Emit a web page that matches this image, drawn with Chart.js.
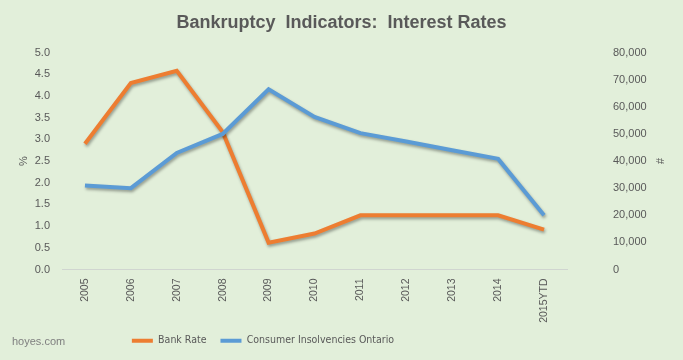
<!DOCTYPE html>
<html>
<head>
<meta charset="utf-8">
<script src="https://cdn.jsdelivr.net/npm/chart.js@4.4.1/dist/chart.umd.min.js"></script>
<style>
  html, body { margin: 0; padding: 0; background: #e2efda; }
  #wrap { width: 683px; height: 360px; }
</style>
</head>
<body>
<div id="wrap"><canvas id="chart" width="683" height="360"></canvas></div>
<script>
// Bankruptcy indicators vs interest rates
const years = ['2005', '2006', '2007', '2008', '2009', '2010', '2011', '2012', '2013', '2014', '2015YTD'];
const bankRate = [2.9, 4.3, 4.58, 3.17, 0.62, 0.83, 1.25, 1.25, 1.25, 1.25, 0.92];
const insolvencies = [31000, 30000, 43000, 50000, 66500, 56300, 50300, 47200, 44000, 40800, 20000];
const rateTicks = [0, 0.5, 1, 1.5, 2, 2.5, 3, 3.5, 4, 4.5, 5];

const textColor = '#595959';
const font = 'Liberation Sans, Arial, sans-serif';
const narrow = '"DejaVu Sans Condensed", "Liberation Sans", Arial, sans-serif';

// soft drop shadow under the lines, like the original
const lineShadow = {
  id: 'lineShadow',
  beforeDatasetsDraw(chart) {
    const ctx = chart.ctx;
    ctx.save();
    ctx.shadowColor = 'rgba(0,0,0,0.35)';
    ctx.shadowBlur = 3;
    ctx.shadowOffsetX = 1;
    ctx.shadowOffsetY = 2;
  },
  afterDatasetsDraw(chart) {
    chart.ctx.restore();
  }
};

// legend in the original sits left of centre
const legendShift = {
  id: 'legendShift',
  beforeDraw(chart) {
    const lg = chart.legend;
    lg.left = 0;
    lg.right = 526;
  }
};

// x labels read bottom-to-top, so draw them ourselves at the scale's positions
const xLabels = {
  id: 'xLabels',
  afterDraw(chart) {
    const ctx = chart.ctx;
    const xs = chart.scales.x;
    ctx.save();
    ctx.fillStyle = textColor;
    ctx.font = '10.5px ' + font;
    ctx.textAlign = 'right';
    ctx.textBaseline = 'middle';
    years.forEach((y, i) => {
      const px = xs.getPixelForValue(i);
      ctx.save();
      ctx.translate(px, xs.top + 9);
      ctx.rotate(-Math.PI / 2);
      ctx.fillText(y, 0, 0);
      ctx.restore();
    });
    ctx.fillStyle = '#7f7f7f';
    ctx.font = '11px ' + font;
    ctx.textAlign = 'left';
    ctx.fillText('hoyes.com', 12, 342);
    ctx.restore();
  }
};

new Chart(document.getElementById('chart').getContext('2d'), {
  type: 'line',
  data: {
    labels: years,
    datasets: [
      {
        label: 'Bank Rate',
        data: bankRate,
        yAxisID: 'y',
        borderColor: '#ed7d31',
        backgroundColor: '#ed7d31',
        borderWidth: 4,
        pointRadius: 0,
        tension: 0,
        order: 1
      },
      {
        label: 'Consumer Insolvencies Ontario',
        data: insolvencies,
        yAxisID: 'y1',
        borderColor: '#5b9bd5',
        backgroundColor: '#5b9bd5',
        borderWidth: 4,
        pointRadius: 0,
        tension: 0,
        order: 0
      }
    ]
  },
  options: {
    responsive: false,
    animation: false,
    layout: { padding: { top: 0, left: 0, right: 0, bottom: 4 } },
    plugins: {
      title: {
        display: true,
        text: 'Bankruptcy  Indicators:  Interest Rates',
        color: textColor,
        font: { family: font, size: 18, weight: 'bold' },
        padding: { top: 11, bottom: 19 }
      },
      legend: {
        position: 'bottom',
        labels: {
          color: textColor,
          font: { family: narrow, size: 10.5 },
          usePointStyle: true,
          pointStyleWidth: 21,
          pointStyle: 'line',
          boxHeight: 3,
          padding: 14,
          sort: (a, b) => a.datasetIndex - b.datasetIndex
        }
      },
      tooltip: { enabled: false }
    },
    scales: {
      x: {
        offset: true,
        grid: { display: false, drawTicks: false },
        border: { display: true, color: '#d0d5d0' },
        ticks: { display: false },
        afterFit: s => { s.height = 52; }
      },
      y: {
        position: 'left',
        min: 0,
        max: 5,
        afterBuildTicks: s => { s.ticks = rateTicks.map(v => ({ value: v })); },
        grid: { display: false, drawTicks: false },
        border: { display: false },
        ticks: {
          color: textColor,
          font: { family: font, size: 11 },
          padding: 12,
          callback: v => v.toFixed(1)
        },
        title: {
          display: true,
          text: '%',
          color: textColor,
          font: { family: font, size: 11 },
          padding: { top: 17, bottom: 0 }
        },
        afterFit: s => { s.width = 62; }
      },
      y1: {
        position: 'right',
        min: 0,
        max: 80000,
        grid: { display: false, drawTicks: false },
        border: { display: false },
        ticks: {
          color: textColor,
          font: { family: font, size: 11 },
          stepSize: 10000,
          padding: 46,
          callback: v => v.toLocaleString('en-US')
        },
        title: {
          display: true,
          text: '#',
          color: textColor,
          font: { family: font, size: 11 },
          padding: { top: 17, bottom: 0 }
        },
        afterFit: s => { s.width = 116; }
      }
    }
  },
  plugins: [lineShadow, legendShift, xLabels]
});
</script>
</body>
</html>
